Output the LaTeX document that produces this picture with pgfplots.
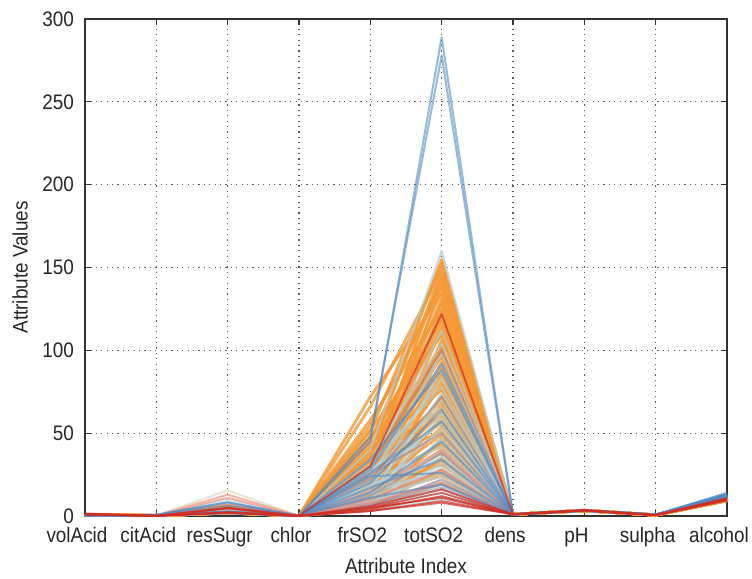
\documentclass[border=0pt]{standalone}
\usepackage{fontspec}
\setmainfont[FakeStretch=0.9]{Liberation Sans}
\usepackage{pgfplots}
\usepackage{pgfplotstable}
\pgfplotsset{compat=1.18}

\definecolor{cOr}{RGB}{244,152,52}
\definecolor{cLb}{RGB}{171,214,232}
\definecolor{cBl}{RGB}{82,138,197}
\definecolor{cRd}{RGB}{210,45,35}
\definecolor{cMv}{RGB}{160,120,140}
\definecolor{cPl}{RGB}{215,210,185}
\definecolor{cSa}{RGB}{240,150,130}

% rows: 1 volAcid, 2 citAcid, 3 resSugr, 4 chlor, 5 frSO2, 6 totSO2, 7 dens, 8 pH, 9 sulpha, 10 alcohol
% columns: 0 = attribute index, 1..N = one wine each
\pgfplotstableread[header=false]{
1 0.70 0.88 0.76 0.60 0.58 0.50 0.62 0.66 0.55 0.61 0.64 0.49 0.59 0.72 0.53 0.68 0.57 0.63 0.80 0.52 0.67 0.71 0.58 0.62 0.54 0.69 0.60 0.74 0.56 0.65 0.51 0.83 0.61 0.58 0.70 0.48 0.64 0.59 0.66 0.73 0.55 0.62 0.90 0.60 0.57 0.68 0.52 0.63 0.78 0.61 0.56 0.70 0.64 0.85 0.59 0.62 0.75 0.66 0.58 0.95
2 0.00 0.04 0.26 0.56 0.10 0.08 0.20 0.30 0.02 0.36 0.12 0.24 0.00 0.18 0.31 0.06 0.28 0.14 0.00 0.22 0.09 0.33 0.16 0.04 0.26 0.11 0.38 0.00 0.21 0.07 0.29 0.03 0.17 0.24 0.10 0.35 0.02 0.19 0.13 0.27 0.05 0.23 0.00 0.15 0.32 0.08 0.25 0.12 0.01 0.20 0.30 0.06 0.18 0.00 0.22 0.14 0.04 0.27 0.09 0.02
3 2.1 2.4 1.9 2.6 6.1 2.2 1.8 2.5 2.0 2.3 2.7 1.9 2.2 6.7 2.0 2.4 2.1 1.8 2.6 2.3 2.0 2.2 1.9 3.0 2.5 2.1 6.4 2.0 2.3 1.9 2.2 2.6 2.0 1.8 2.4 2.1 3.4 2.0 2.2 1.9 2.5 2.3 2.0 2.1 1.8 5.5 2.2 2.4 1.9 2.0 2.3 2.1 1.9 2.6 2.0 2.2 1.8 2.4 2.1 2.0
4 0.076 0.098 0.092 0.075 0.080 0.086 0.074 0.090 0.082 0.078 0.081 0.079 0.088 0.072 0.095 0.084 0.077 0.083 0.091 0.073 0.085 0.080 0.076 0.094 0.078 0.087 0.082 0.074 0.089 0.081 0.079 0.093 0.077 0.084 0.075 0.086 0.080 0.090 0.073 0.083 0.088 0.076 0.082 0.079 0.092 0.074 0.085 0.081 0.078 0.087 0.083 0.077 0.089 0.075 0.080 0.086 0.079 0.084 0.091 0.076
5 38 51 24 66 30 45 17 55 33 72 26 41 12 58 35 21 47 29 15 39 52 9 31 24 43 18 36 11 27 48 20 6 33 14 25 40 8 19 29 13 35 22 7 16 26 10 31 18 5 12 23 9 15 6 11 17 5 9 12 4
6 155 153 150 148 145 144 141 139 136 134 131 129 127 124 122 120 118 115 113 111 109 106 104 102 100 98 96 93 91 89 87 85 82 80 78 76 73 71 69 67 65 62 60 58 56 54 51 49 47 44 42 40 38 35 33 31 28 26 24 20
7 0.998 0.997 0.997 0.998 0.996 0.997 0.998 0.997 0.996 0.998 0.997 0.998 0.997 0.996 0.998 0.997 0.997 0.998 0.996 0.997 0.998 0.997 0.996 0.998 0.997 0.997 0.998 0.996 0.997 0.998 0.997 0.996 0.998 0.997 0.997 0.998 0.996 0.997 0.998 0.997 0.996 0.998 0.997 0.997 0.998 0.996 0.997 0.998 0.997 0.996 0.998 0.997 0.997 0.998 0.996 0.997 0.998 0.997 0.996 0.998
8 3.51 3.20 3.26 3.16 3.30 3.39 3.36 3.35 3.28 3.22 3.33 3.41 3.18 3.29 3.45 3.24 3.37 3.31 3.21 3.38 3.27 3.34 3.42 3.19 3.32 3.25 3.40 3.23 3.36 3.30 3.44 3.17 3.28 3.35 3.22 3.39 3.31 3.26 3.43 3.20 3.34 3.29 3.37 3.24 3.32 3.46 3.21 3.30 3.38 3.27 3.33 3.25 3.40 3.18 3.35 3.28 3.42 3.23 3.31 3.36
9 0.56 0.68 0.65 0.58 0.46 0.60 0.54 0.62 0.57 0.75 0.59 0.52 0.66 0.61 0.55 0.70 0.58 0.63 0.50 0.64 0.57 0.60 0.53 0.67 0.62 0.56 0.72 0.59 0.54 0.61 0.65 0.58 0.51 0.63 0.60 0.55 0.69 0.57 0.62 0.53 0.64 0.59 0.56 0.71 0.58 0.60 0.52 0.66 0.61 0.57 0.63 0.55 0.68 0.59 0.54 0.62 0.58 0.65 0.56 0.60
10 9.4 9.8 9.8 9.8 9.4 9.5 10.5 9.2 10.0 9.6 10.2 9.3 9.7 10.8 9.5 9.9 9.4 10.1 9.6 9.8 9.5 10.0 9.3 9.9 10.4 9.4 9.7 10.6 9.5 9.8 9.2 10.3 9.6 9.5 10.0 9.4 9.9 10.7 9.5 9.8 9.6 9.4 10.2 9.5 9.9 10.5 9.3 9.7 9.6 10.1 9.4 9.8 10.0 9.5 9.3 10.9 9.6 9.9 9.4 10.2
}\tOr

\pgfplotstableread[header=false]{
1 0.32 0.41 0.39 0.50 0.45 0.36 0.58 0.31 0.47 0.44 0.38 0.52 0.35 0.40 0.29 0.55 0.43 0.34 0.49 0.37 0.46 0.33 0.42 0.60 0.39 0.30 0.48 0.41 0.35 0.53 0.44 0.38 0.31 0.47 0.40
2 0.45 0.32 0.40 0.28 0.36 0.49 0.24 0.42 0.31 0.38 0.27 0.44 0.35 0.30 0.52 0.22 0.39 0.33 0.46 0.29 0.37 0.41 0.26 0.48 0.34 0.43 0.21 0.36 0.40 0.31 0.47 0.25 0.38 0.44 0.33
3 2.2 2.0 10.0 2.4 1.9 2.6 2.1 3.2 2.0 2.3 1.8 2.5 2.2 4.0 2.0 2.1 1.9 2.7 2.3 2.0 2.4 1.8 2.2 2.6 2.0 1.9 2.5 2.1 3.6 2.0 2.2 1.9 2.3 2.0 1.7
4 0.071 0.078 0.069 0.082 0.074 0.066 0.080 0.072 0.076 0.068 0.079 0.073 0.070 0.084 0.067 0.075 0.071 0.081 0.069 0.077 0.072 0.068 0.083 0.074 0.070 0.078 0.066 0.073 0.080 0.071 0.075 0.069 0.077 0.072 0.068
5 40 30 34 22 28 16 25 31 12 20 27 9 18 24 14 29 10 17 21 7 15 12 19 6 11 14 8 10 5 9 7 5 6 4 3
6 160 112 104 98 92 88 83 78 74 70 66 62 59 56 53 50 47 45 42 40 38 36 34 32 30 28 26 24 22 20 18 16 14 12 10
7 0.996 0.997 0.995 0.996 0.997 0.996 0.995 0.997 0.996 0.996 0.995 0.997 0.996 0.995 0.996 0.997 0.996 0.995 0.996 0.997 0.996 0.995 0.997 0.996 0.996 0.995 0.997 0.996 0.995 0.996 0.997 0.996 0.995 0.996 0.997
8 3.32 3.28 3.36 3.22 3.41 3.30 3.25 3.38 3.34 3.20 3.29 3.44 3.31 3.26 3.37 3.23 3.35 3.40 3.27 3.33 3.21 3.39 3.30 3.24 3.42 3.28 3.36 3.32 3.19 3.35 3.30 3.43 3.26 3.38 3.34
9 0.72 0.68 0.75 0.64 0.80 0.70 0.66 0.77 0.73 0.62 0.69 0.82 0.71 0.65 0.76 0.67 0.74 0.79 0.63 0.70 0.68 0.78 0.72 0.66 0.81 0.69 0.74 0.71 0.64 0.76 0.70 0.83 0.67 0.73 0.75
10 10.5 11.2 9.8 12.0 10.8 11.5 10.2 12.4 11.0 10.6 11.8 9.9 12.2 10.4 11.3 10.9 12.6 11.1 10.3 11.7 10.0 12.0 11.4 10.7 11.9 12.8 10.5 11.6 12.3 11.0 10.8 12.5 11.2 13.0 11.5
}\tLb

\pgfplotstableread[header=false]{
1 0.30 0.30 0.38 0.35 0.42 0.33 0.40 0.36 0.31 0.45
2 0.68 0.68 0.45 0.52 0.38 0.49 0.41 0.55 0.36 0.47
3 8.3 8.3 2.2 2.5 1.9 2.4 2.0 2.8 2.1 6.2
4 0.050 0.050 0.068 0.072 0.064 0.070 0.066 0.074 0.062 0.069
5 45 48 28 34 20 26 14 17 24 11
6 289 278 92 88 64 57 45 34 26 19
7 0.995 0.995 0.996 0.995 0.996 0.995 0.996 0.995 0.996 0.995
8 3.32 3.32 3.28 3.35 3.22 3.40 3.30 3.26 3.37 3.24
9 0.80 0.80 0.74 0.78 0.70 0.83 0.76 0.72 0.81 0.75
10 14.0 13.6 12.2 11.8 12.5 11.4 13.0 12.0 11.6 12.8
}\tBl

\pgfplotstableread[header=false]{
1 1.02 1.13 0.98 1.33 1.09 1.58 0.88
2 0.04 0.00 0.12 0.02 0.20 0.01 0.08
3 4.5 4.8 2.1 2.4 1.9 5.0 2.0
4 0.086 0.110 0.090 0.080 0.095 0.084 0.100
5 30 6 5 4 5 3 3
6 122 16 14 12 11 9 8
7 0.997 0.998 0.997 0.996 0.998 0.997 0.996
8 3.38 3.45 3.30 3.52 3.41 3.35 3.48
9 0.55 0.60 0.52 0.58 0.50 0.62 0.54
10 9.6 10.2 9.9 10.9 9.4 10.4 10.0
}\tRd

\pgfplotstableread[header=false]{
1 0.42 0.38 0.45 0.35 0.40 0.37 0.44 0.39
2 0.40 0.46 0.35 0.49 0.42 0.38 0.33 0.45
3 2.2 2.6 2.0 2.4 1.9 2.1 2.3 2.0
4 0.068 0.072 0.065 0.070 0.066 0.071 0.069 0.067
5 30 22 25 12 10 6 8 7
6 100 72 50 38 28 22 19 17
7 0.996 0.995 0.996 0.995 0.996 0.995 0.996 0.995
8 3.30 3.25 3.35 3.28 3.32 3.27 3.31 3.29
9 0.74 0.78 0.70 0.80 0.76 0.72 0.75 0.73
10 11.0 12.0 10.5 12.5 11.5 13.0 11.8 12.2
}\tMv

\pgfplotstableread[header=false]{
1 0.55 0.48 0.60 0.44 0.52 0.58 0.46 0.50
2 0.30 0.25 0.34 0.20 0.28 0.36 0.22 0.26
3 15.5 2.3 2.0 2.6 1.9 2.2 2.1 2.4
4 0.080 0.075 0.082 0.078 0.076 0.081 0.079 0.077
5 30 20 15 12 9 7 5 4
6 160 65 44 35 27 21 16 11
7 0.997 0.996 0.997 0.996 0.997 0.996 0.997 0.996
8 3.34 3.30 3.36 3.28 3.32 3.38 3.29 3.33
9 0.62 0.66 0.60 0.68 0.64 0.61 0.65 0.63
10 10.8 10.5 11.0 10.2 10.6 11.2 10.4 10.9
}\tPl

\pgfplotstableread[header=false]{
1 0.60 0.55 0.64
2 0.20 0.25 0.18
3 12.9 11.0 7.0
4 0.085 0.080 0.088
5 15 10 8
6 40 28 20
7 0.998 0.997 0.998
8 3.30 3.34 3.28
9 0.60 0.62 0.58
10 10.0 10.3 9.8
}\tSa

\begin{document}
\begin{tikzpicture}
\begin{axis}[
  scale only axis,
  width=321pt, height=248.5pt,
  xmin=1, xmax=10, ymin=0, ymax=300,
  xtick={1,...,10},
  xticklabels={volAcid,citAcid,resSugr,chlor,frSO2,totSO2,dens,pH,sulpha,alcohol},
  ytick={0,50,...,300},
  grid=major,
  major grid style={black!65, line width=0.6pt, dash pattern=on 0.6pt off 2.1pt},
  tick align=inside,
  major tick length=3pt,
  tick style={black!80, line width=0.6pt},
  axis line style={black!80, line width=0.9pt},
  /pgf/number format/assume math mode=true,
  ticklabel style={font=\fontsize{10.5}{12}\selectfont, text=black!85},
  xticklabel style={anchor=base, yshift=-13pt, xshift=-4pt},
  yticklabel style={anchor=east, xshift=-2pt},
  label style={font=\fontsize{10.5}{12}\selectfont, text=black!85},
  xlabel={Attribute Index},
  ylabel={Attribute Values},
  xlabel style={at={([yshift=-28.5pt]axis description cs:0.5,0)}, anchor=base},
  ylabel style={at={([xshift=-32.5pt]axis description cs:0,0.5)}, anchor=center},
  every axis plot/.append style={no marks, line join=round},
]
\pgfplotsinvokeforeach{1,...,8}{\addplot[color=cPl, opacity=0.6, line width=1pt] table[x index=0, y index=#1] {\tPl};}
\pgfplotsinvokeforeach{1,...,60}{\addplot[color=cOr, opacity=0.8, line width=1.4pt] table[x index=0, y index=#1] {\tOr};}
\pgfplotsinvokeforeach{1,...,35}{\addplot[color=cLb, opacity=0.6, line width=1pt] table[x index=0, y index=#1] {\tLb};}
\pgfplotsinvokeforeach{1,...,8}{\addplot[color=cMv, opacity=0.5, line width=1pt] table[x index=0, y index=#1] {\tMv};}
\pgfplotsinvokeforeach{1,...,3}{\addplot[color=cSa, opacity=0.7, line width=1pt] table[x index=0, y index=#1] {\tSa};}
\pgfplotsinvokeforeach{1,...,10}{\addplot[color=cBl, opacity=0.6, line width=1pt] table[x index=0, y index=#1] {\tBl};}
\pgfplotsinvokeforeach{1,...,7}{\addplot[color=cRd, opacity=0.7, line width=0.9pt] table[x index=0, y index=#1] {\tRd};}
\end{axis}
\pgfresetboundingbox
\path ([shift={(-42.5pt,-31pt)}]current axis.south west) rectangle ([shift={(12.5pt,9.5pt)}]current axis.north east);
\end{tikzpicture}
\end{document}
